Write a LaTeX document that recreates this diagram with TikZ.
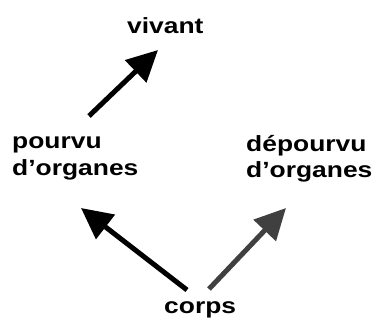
\documentclass[tikz,border=0pt]{standalone}
\usepackage{fontspec}
\setmainfont[FakeStretch=1.2]{Liberation Sans}
\usetikzlibrary{arrows.meta}
\definecolor{darkarrow}{HTML}{404040}
\tikzset{
  lbl/.style={anchor=base west, inner sep=0pt, font=\bfseries\fontsize{22bp}{27bp}\selectfont},
  arr/.style={line width=5bp, -{Triangle[length=31bp,width=30bp]}},
}
\begin{document}
\begin{tikzpicture}[x=1bp,y=-1bp]
\useasboundingbox (0,0) rectangle (374,320);
\node[lbl] (vivant) at (127,33) {vivant};
\node[lbl] (pourvuA) at (12,148) {pourvu};
\node[lbl] (pourvuB) at (12,175) {d’organes};
\node[lbl] (depA) at (246,151) {dépourvu};
\node[lbl] (depB) at (246,177) {d’organes};
\node[lbl] (corps) at (164,313) {corps};
\coordinate (a1s) at (89,116);
\coordinate (a1e) at (158,50);
\coordinate (a2s) at (187,290);
\coordinate (a2e) at (81,208);
\coordinate (a3s) at (209,289);
\coordinate (a3e) at (286,208);
\draw[arr] (a1s) -- (a1e);
\draw[arr] (a2s) -- (a2e);
\draw[arr, darkarrow] (a3s) -- (a3e);
\end{tikzpicture}
\end{document}
